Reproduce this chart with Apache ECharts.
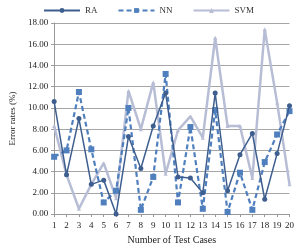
<!DOCTYPE html>
<html>
<head>
<meta charset="utf-8">
<script src="https://cdn.jsdelivr.net/npm/echarts@6/dist/echarts.min.js"></script>
<style>
  html, body { margin: 0; padding: 0; background: #fff; }
  #chart { width: 297px; height: 250px; }
</style>
</head>
<body>
<div id="chart"></div>
<script>
const cases = ['1', '2', '3', '4', '5', '6', '7', '8', '9', '10', '11', '12', '13', '14', '15', '16', '17', '18', '19', '20']
const ra = [10.6, 3.7, 9.0, 2.8, 3.2, 0.0, 7.3, 4.3, 8.3, 11.4, 3.5, 3.4, 2.0, 11.4, 2.2, 5.6, 7.6, 1.4, 5.7, 10.2]
const nn = [5.4, 6.0, 11.5, 6.1, 1.1, 2.2, 10.0, 0.4, 3.5, 13.2, 1.1, 8.2, 0.5, 9.8, 0.2, 3.9, 0.4, 4.9, 7.5, 9.7]
const svm = [8.3, 3.7, 0.5, 2.8, 4.8, 1.5, 11.6, 8.0, 12.4, 3.8, 7.9, 9.2, 7.2, 16.6, 8.3, 8.3, 3.4, 17.4, 10.5, 2.8]

const serif = 'Liberation Serif'
const chart = echarts.init(document.getElementById('chart'))

chart.setOption({
  animation: false,
  textStyle: { fontFamily: serif },
  legend: {
    top: 1,
    left: 'center',
    itemWidth: 36,
    itemHeight: 6,
    itemGap: 20,
    textStyle: { fontFamily: serif, fontSize: 9, color: '#333' },
    data: ['RA', 'NN', 'SVM']
  },
  grid: {
    left: 42,
    right: 7,
    top: 23,
    bottom: 28
  },
  xAxis: {
    type: 'category',
    data: cases,
    boundaryGap: false,
    name: 'Number of Test Cases',
    nameLocation: 'middle',
    nameGap: 20,
    nameTextStyle: { fontFamily: serif, fontSize: 10, color: '#222' },
    axisLine: { lineStyle: { color: '#999' } },
    axisTick: { show: true, length: 3, lineStyle: { color: '#999' } },
    axisLabel: { fontFamily: serif, fontSize: 9, color: '#222', margin: 7, interval: 0 }
  },
  yAxis: {
    type: 'value',
    min: 0,
    max: 18,
    interval: 2,
    name: 'Error rates (%)',
    nameLocation: 'middle',
    nameGap: 36,
    nameTextStyle: { fontFamily: serif, fontSize: 9, color: '#222' },
    axisLine: { show: true, lineStyle: { color: '#999' } },
    axisTick: { show: true, length: 3, lineStyle: { color: '#999' } },
    axisLabel: {
      fontFamily: serif,
      fontSize: 9,
      color: '#222',
      margin: 6,
      formatter: v => v.toFixed(2)
    },
    splitLine: { lineStyle: { color: '#a6a6a6', width: 1 } }
  },
  series: [
    {
      name: 'RA',
      type: 'line',
      data: ra,
      symbol: 'circle',
      symbolSize: 5,
      itemStyle: { color: '#3d5e8e' },
      lineStyle: { color: '#3d5e8e', width: 1.5 },
      z: 4
    },
    {
      name: 'NN',
      type: 'line',
      data: nn,
      symbol: 'rect',
      symbolSize: 6,
      itemStyle: { color: '#4f7fbd' },
      lineStyle: { color: '#4f7fbd', width: 2.2, type: [5, 3] },
      z: 3
    },
    {
      name: 'SVM',
      type: 'line',
      data: svm,
      symbol: 'triangle',
      symbolSize: 4,
      itemStyle: { color: '#b7bdd5' },
      lineStyle: { color: '#b7bdd5', width: 2.5 },
      z: 2
    }
  ]
})
</script>
</body>
</html>
